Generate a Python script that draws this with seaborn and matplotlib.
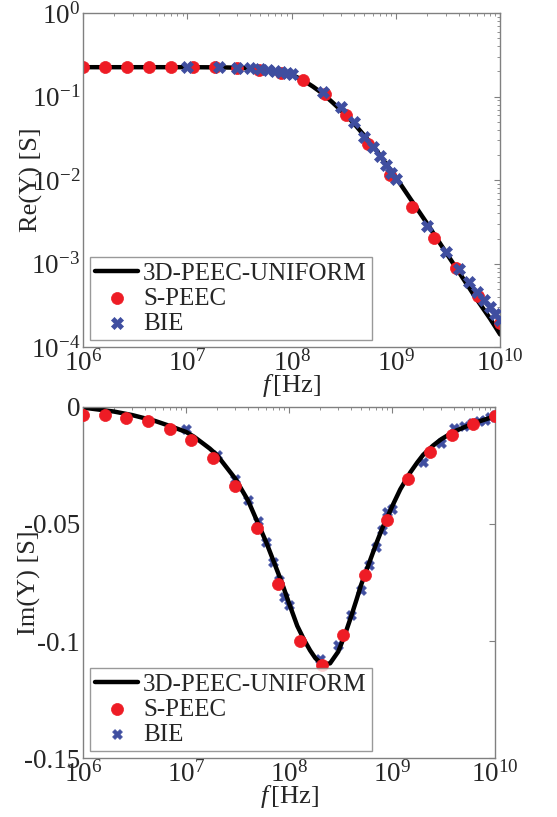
import numpy as np
import pandas as pd
import seaborn as sns
import matplotlib
matplotlib.use('Agg')
import matplotlib.pyplot as plt
from matplotlib.ticker import LogLocator, NullFormatter, FixedLocator

# --- данные ---
# S-PEEC: 20 частот
f_speec = [1.0e6, 1.624e6, 2.637e6, 4.281e6, 6.952e6, 1.129e7, 1.833e7, 2.976e7,
           4.833e7, 7.848e7, 1.274e8, 2.069e8, 3.360e8, 5.456e8, 8.859e8, 1.438e9,
           2.336e9, 3.793e9, 6.158e9, 1.0e10]
re_speec = [0.225, 0.225, 0.225, 0.225, 0.225, 0.225, 0.224, 0.220, 0.209, 0.194,
            0.158, 0.108, 0.0603, 0.027, 0.0115, 0.0048, 0.00203, 8.9e-4, 4.1e-4, 1.94e-4]
im_speec = [-0.0036, -0.0036, -0.0046, -0.0061, -0.0094, -0.0142, -0.0218, -0.0338,
            -0.0516, -0.0755, -0.1000, -0.1102, -0.0974, -0.0718, -0.0481, -0.0309,
            -0.0192, -0.0118, -0.0074, -0.0040]

# BIE: 1..9 x 10^7, 10^8, 10^9 и 10^10
f_bie = [1e7, 2e7, 3e7, 4e7, 5e7, 6e7, 7e7, 8e7, 9e7,
         1e8, 2e8, 3e8, 4e8, 5e8, 6e8, 7e8, 8e8, 9e8,
         1e9, 2e9, 3e9, 4e9, 5e9, 6e9, 7e9, 8e9, 9e9, 1e10]
re_bie = [0.225, 0.225, 0.223, 0.219, 0.215, 0.209, 0.205, 0.1995, 0.194,
          0.187, 0.115, 0.0759, 0.0501, 0.0331, 0.0251, 0.0194, 0.0151, 0.01225,
          0.0102, 0.0028, 0.00138, 8.7e-4, 6.03e-4, 4.57e-4, 3.63e-4, 3.02e-4, 2.51e-4, 2.13e-4]
im_bie = [-0.0095, -0.0205, -0.0306, -0.0398, -0.0486, -0.0576, -0.0661, -0.0740, -0.0811,
          -0.0846, -0.1078, -0.1017, -0.0889, -0.0782, -0.0676, -0.0597, -0.0526, -0.0448,
          -0.0434, -0.0235, -0.0156, -0.0092, -0.0083, -0.0071, -0.0060, -0.0054, -0.0043, -0.0036]

# 3D-PEEC-UNIFORM: сплошная линия (Re)
f_line = [1e6, 1e7, 2e7, 3e7, 5e7, 7e7, 9e7, 1.1e8, 1.3e8, 1.6e8, 2e8, 2.5e8,
          3.2e8, 4e8, 5e8, 6.3e8, 8e8, 1e9, 1.4e9, 2e9, 3e9, 4e9, 6e9, 8e9, 1e10]
re_line = [0.225, 0.225, 0.224, 0.222, 0.213, 0.201, 0.189, 0.173, 0.156, 0.132,
           0.108, 0.084, 0.063, 0.047, 0.034, 0.024, 0.0158, 0.0108, 0.0058, 0.0030,
           0.00138, 8.0e-4, 3.7e-4, 2.2e-4, 1.42e-4]
# 3D-PEEC-UNIFORM: сплошная линия (Im)
f_line_im = [1e6, 2e6, 3e6, 5e6, 7e6, 1e7, 1.2e7, 1.4e7, 1.7e7, 2e7, 3e7, 4e7, 5e7,
             6e7, 7e7, 8.5e7, 1e8, 1.2e8, 1.4e8, 1.6e8, 1.8e8, 2.1e8, 2.5e8, 3e8,
             3.5e8, 4e8, 4.5e8, 5e8, 6e8, 7e8, 8e8, 9e8, 1e9, 1.2e9, 1.5e9, 1.75e9,
             2e9, 2.5e9, 3e9, 4e9, 5e9, 6e9, 7e9, 8.5e9, 1e10]
im_line = [-0.0003, -0.0020, -0.0035, -0.0060, -0.0082, -0.0107, -0.0128, -0.0150,
           -0.0178, -0.0206, -0.0306, -0.0400, -0.0498, -0.0578, -0.0654, -0.0750,
           -0.0839, -0.0935, -0.0995, -0.1040, -0.1073, -0.1100, -0.1095, -0.1045,
           -0.0970, -0.0895, -0.0825, -0.0760, -0.0665, -0.0585, -0.0520, -0.0470,
           -0.0425, -0.0352, -0.0280, -0.0238, -0.0205, -0.0165, -0.0138, -0.0105,
           -0.0087, -0.0073, -0.0062, -0.0050, -0.0040]

line_df = pd.DataFrame({'f': f_line, 're': re_line})
line_im_df = pd.DataFrame({'f': f_line_im, 'im': im_line})
speec_df = pd.DataFrame({'f': f_speec, 're': re_speec, 'im': im_speec})
bie_df = pd.DataFrame({'f': f_bie, 're': re_bie, 'im': im_bie})

# --- оформление ---
sns.set_style("white")
plt.rcParams['font.family'] = ['Liberation Serif', 'DejaVu Serif']
plt.rcParams['mathtext.fontset'] = 'custom'
plt.rcParams['mathtext.rm'] = 'Liberation Serif'
plt.rcParams['mathtext.it'] = 'Liberation Serif:italic'
plt.rcParams['axes.unicode_minus'] = False

red = '#ee1c25'
blue = '#3f4ea0'
frame = '#808080'
txt = '#262626'
tick_fs = 19.5
label_fs = 19
leg_fs = 18

fig = plt.figure(figsize=(5.57, 8.17), dpi=100)
ax1 = fig.add_axes([0.149, 0.575, 0.749, 0.409])
ax2 = fig.add_axes([0.149, 0.072, 0.740, 0.430])


def style_axis(ax):
    for s in ax.spines.values():
        s.set_color(frame)
        s.set_linewidth(1.0)
    ax.tick_params(which='both', direction='in', top=True, right=True,
                   color=frame, labelcolor=txt, labelsize=tick_fs, pad=2)
    ax.tick_params(which='major', length=4)
    ax.tick_params(which='minor', length=2)
    ax.xaxis.set_major_locator(FixedLocator([1e6, 1e7, 1e8, 1e9, 1e10]))
    ax.set_xticklabels([r'$10^{6}$', r'$10^{7}$', r'$10^{8}$', r'$10^{9}$', r'$10^{10}$'])
    ax.xaxis.set_minor_locator(LogLocator(base=10, subs=np.arange(2, 10), numticks=20))
    ax.xaxis.set_minor_formatter(NullFormatter())
    ax.set_xlim(1e6, 1e10)
    ax.set_xlabel(r'$f\,$[Hz]', fontsize=label_fs, color=txt, labelpad=-3)


def add_legend(ax, handles, labels):
    leg = ax.legend(handles, labels, loc='lower left', fontsize=leg_fs, frameon=True,
                    fancybox=False, edgecolor=frame, handlelength=1.7, handletextpad=0.2,
                    labelspacing=0.1, borderpad=0.2, borderaxespad=0.3)
    leg.get_frame().set_linewidth(1.0)
    for t in leg.get_texts():
        t.set_color(txt)


def ordered(ax):
    h, l = ax.get_legend_handles_labels()
    idx = [l.index('3D-PEEC-UNIFORM'), l.index('S-PEEC'), l.index('BIE')]
    return [h[i] for i in idx], [l[i] for i in idx]


# --- верхний график: Re(Y) ---
sns.lineplot(ax=ax1, data=line_df, x='f', y='re', color='black', linewidth=3.2,
             label='3D-PEEC-UNIFORM', zorder=1)
sns.scatterplot(ax=ax1, data=speec_df, x='f', y='re', color=red, marker='o', s=75,
                edgecolor=red, linewidth=0.5, label='S-PEEC', zorder=2)
sns.scatterplot(ax=ax1, data=bie_df, x='f', y='re', color=blue, marker='X', s=75,
                edgecolor=blue, linewidth=0.5, label='BIE', zorder=3)
ax1.set_xscale('log')
ax1.set_yscale('log')
ax1.set_ylim(1e-4, 1)
ax1.yaxis.set_major_locator(FixedLocator([1e-4, 1e-3, 1e-2, 1e-1, 1e0]))
ax1.set_yticklabels([r'$10^{-4}$', r'$10^{-3}$', r'$10^{-2}$', r'$10^{-1}$', r'$10^{0}$'])
ax1.yaxis.set_minor_locator(LogLocator(base=10, subs=np.arange(2, 10), numticks=20))
ax1.yaxis.set_minor_formatter(NullFormatter())
style_axis(ax1)
ax1.set_ylabel('Re(Y) [S]', fontsize=label_fs, color=txt, labelpad=-9)
add_legend(ax1, *ordered(ax1))

# --- нижний график: Im(Y) ---
sns.scatterplot(ax=ax2, data=bie_df, x='f', y='im', color=blue, marker='X', s=50,
                edgecolor=blue, linewidth=0.5, label='BIE', zorder=1)
sns.lineplot(ax=ax2, data=line_im_df, x='f', y='im', color='black', linewidth=3.2,
             label='3D-PEEC-UNIFORM', zorder=2)
sns.scatterplot(ax=ax2, data=speec_df, x='f', y='im', color=red, marker='o', s=75,
                edgecolor=red, linewidth=0.5, label='S-PEEC', zorder=3)
ax2.set_xscale('log')
ax2.set_ylim(-0.15, 0)
ax2.yaxis.set_major_locator(FixedLocator([-0.15, -0.1, -0.05, 0]))
ax2.set_yticklabels(['-0.15', '-0.1', '-0.05', '0'])
style_axis(ax2)
ax2.set_ylabel('Im(Y) [S]', fontsize=label_fs, color=txt, labelpad=-12)
add_legend(ax2, *ordered(ax2))

fig.savefig('out.png', dpi=100)
plt.close()
